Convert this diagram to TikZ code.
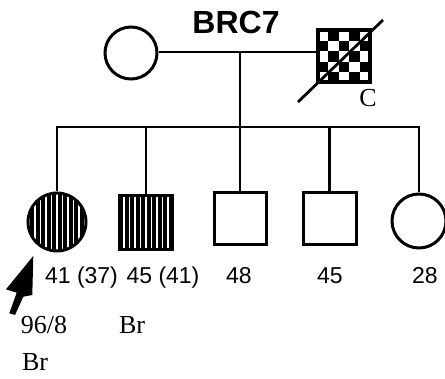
\documentclass[tikz,border=0pt]{standalone}
\usepackage{fontspec}
\newfontfamily\sansf{Liberation Sans}
\newfontfamily\seriff{Liberation Serif}
\begin{document}
\begin{tikzpicture}[x=1pt,y=-1pt,line width=2.8pt,
  person/.style={draw=black,line width=3pt,inner sep=0pt,fill=white},
  male/.style={person,rectangle,minimum width=52pt,minimum height=52pt},
  female/.style={person,circle,minimum size=54pt},
  hatched/.style={fill=black,path picture={
     \foreach \i in {-33,-27.5,...,34} \draw[white,line width=1.7pt]
       ([xshift=\i pt]path picture bounding box.north) -- ([xshift=\i pt]path picture bounding box.south);}},
  checker/.style={fill=white,line width=4pt,path picture={
     \foreach \r in {0,...,4} \foreach \c in {0,...,4} {
       \ifodd\numexpr\r+\c\relax
         \fill[black] ([shift={(\c*10.4,\r*10.4)}]path picture bounding box.north west) rectangle ++(10.4,10.4);
       \fi}}},
  agelbl/.style={font=\sansf\fontsize{23}{23}\selectfont,anchor=base,inner sep=0pt},
  serlbl/.style={font=\seriff\fontsize{26}{26}\selectfont,anchor=base,inner sep=0pt},
  titlelbl/.style={font=\sansf\bfseries\fontsize{32}{32}\selectfont,inner sep=0pt}]
\useasboundingbox (0,0) rectangle (445,379);
% parents
\node[titlelbl] (title) at (236,22) {BRC7};
\node[female,minimum size=52pt] (mo) at (131,53) {};
\node[male,checker] (fa) at (344,56.5) {};
\coordinate (dA) at (298,102);
\coordinate (dB) at (383,20);
\draw (dA) -- (dB);
\node[serlbl] (C) at (368,107) {C};
\coordinate (mid) at (240,52);
\coordinate (sibc) at (240,127);
\draw (mo.east |- mid) -- (fa.west |- mid);
\draw (mid) -- (sibc);
% children
\node[female,hatched,minimum size=58pt] (c1) at (57,222) {};
\node[male,hatched,minimum height=54pt,minimum width=53pt] (c2) at (146,222.5) {};
\node[male] (c3) at (240,219) {};
\node[male,minimum width=53pt] (c4) at (329.5,219) {};
\node[female] (c5) at (419,221) {};
\draw (c1.north) -- (c1.north |- sibc) -- (c5.north |- sibc) -- (c5.north);
\foreach \k in {c2,c3,c4} \draw (\k.north) -- (\k.north |- sibc);
% labels
\node[agelbl] (l1) at (81.5,284) {41 (37)};
\node[agelbl] (l2) at (163,284) {45 (41)};
\node[agelbl] (l3) at (239,284) {48};
\node[agelbl] (l4) at (330,284) {45};
\node[agelbl] (l5) at (425,284) {28};
\node[serlbl] (id) at (44,334) {96/8};
\node[serlbl] (br1) at (35,371) {Br};
\node[serlbl] (br2) at (132,334) {Br};
% proband arrow
\fill[black] (33.3,256) -- (32.3,295) -- (23.3,296.7) -- (15,315) -- (9.3,313.3) -- (16.7,292.7) -- (6,289.3) -- cycle;
\end{tikzpicture}
\end{document}
